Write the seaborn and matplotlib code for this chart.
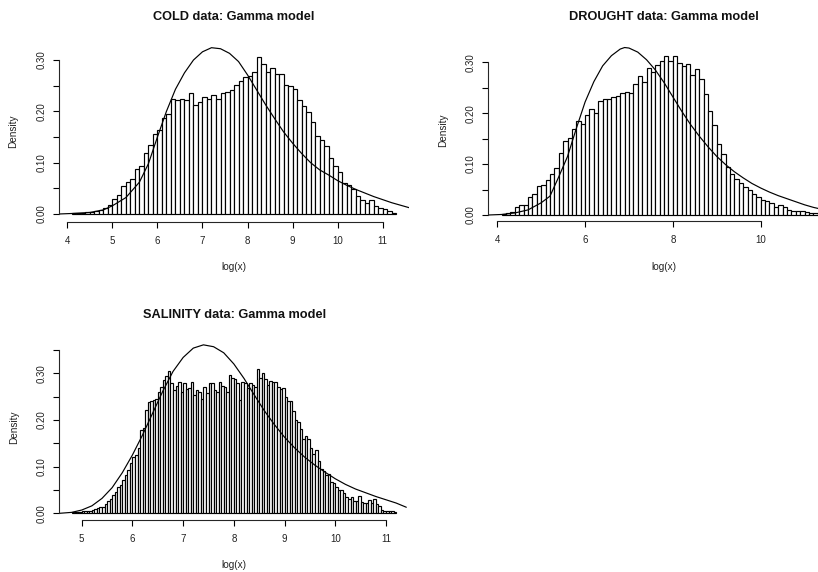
import numpy as np
import pandas as pd
import matplotlib
matplotlib.use("Agg")
import matplotlib.pyplot as plt
import seaborn as sns

sns.set_style("ticks")
plt.rcParams['font.family'] = ['Liberation Sans', 'DejaVu Sans']

# ---------------- data ----------------
cold_start, cold_width = 4.1, 0.1
cold_density = [0.001, 0.001, 0.002, 0.003, 0.004, 0.006, 0.008, 0.012, 0.017,
                0.030, 0.037, 0.055, 0.063, 0.068, 0.087, 0.093, 0.118, 0.134, 0.156,
                0.164, 0.187, 0.195, 0.224, 0.222, 0.225, 0.223, 0.235, 0.213, 0.218,
                0.228, 0.225, 0.232, 0.225, 0.235, 0.237, 0.242, 0.251, 0.259, 0.266,
                0.269, 0.276, 0.305, 0.292, 0.276, 0.284, 0.273, 0.273, 0.251, 0.249,
                0.243, 0.223, 0.210, 0.198, 0.180, 0.152, 0.145, 0.132, 0.109, 0.094,
                0.081, 0.061, 0.057, 0.048, 0.035, 0.028, 0.022, 0.027, 0.016, 0.012,
                0.009, 0.005, 0.002]
cold_curve_x = [3.81, 4.1, 4.5, 4.8, 5.0, 5.3, 5.6, 5.8, 6.0, 6.2, 6.4, 6.6, 6.8, 7.0,
                7.2, 7.4, 7.6, 7.8, 8.0, 8.2, 8.4, 8.6, 8.8, 9.0, 9.2, 9.4, 9.6, 9.8,
                10.0, 10.2, 10.4, 10.6, 10.8, 11.0, 11.2, 11.4, 11.6]
cold_curve_y = [0.000, 0.001, 0.003, 0.008, 0.016, 0.032, 0.062, 0.098, 0.150, 0.200,
                0.243, 0.275, 0.300, 0.316, 0.324, 0.322, 0.313, 0.297, 0.271, 0.242,
                0.213, 0.186, 0.160, 0.138, 0.118, 0.100, 0.086, 0.076, 0.065, 0.056,
                0.048, 0.041, 0.034, 0.028, 0.022, 0.017, 0.012]

drought_start, drought_width = 4.1, 0.1
drought_density = [0.002, 0.003, 0.006, 0.015, 0.020, 0.020, 0.035, 0.042, 0.057,
                   0.059, 0.069, 0.081, 0.092, 0.121, 0.146, 0.152, 0.168, 0.184, 0.179,
                   0.196, 0.208, 0.200, 0.224, 0.228, 0.228, 0.231, 0.233, 0.240, 0.242,
                   0.240, 0.258, 0.273, 0.262, 0.288, 0.280, 0.295, 0.303, 0.312, 0.303,
                   0.312, 0.299, 0.293, 0.297, 0.275, 0.286, 0.267, 0.238, 0.205, 0.176,
                   0.140, 0.119, 0.094, 0.081, 0.070, 0.063, 0.055, 0.050, 0.042, 0.035,
                   0.029, 0.027, 0.023, 0.016, 0.019, 0.015, 0.010, 0.008, 0.007, 0.007,
                   0.006, 0.004, 0.003, 0.001, 0.001]
drought_curve_x = [3.8, 4.1, 4.4, 4.7, 5.0, 5.2, 5.4, 5.6, 5.8, 6.0, 6.2, 6.4, 6.6, 6.8,
                   6.9, 7.0, 7.2, 7.4, 7.6, 7.8, 8.0, 8.2, 8.4, 8.6, 8.8, 9.0, 9.2, 9.4,
                   9.6, 9.8, 10.0, 10.2, 10.4, 10.6, 10.8, 11.0, 11.2, 11.4, 11.6, 11.8]
drought_curve_y = [0.000, 0.001, 0.004, 0.010, 0.024, 0.037, 0.075, 0.115, 0.170, 0.222,
                   0.262, 0.293, 0.313, 0.326, 0.329, 0.328, 0.320, 0.305, 0.285, 0.260,
                   0.232, 0.204, 0.178, 0.155, 0.134, 0.115, 0.099, 0.085, 0.073, 0.062,
                   0.053, 0.045, 0.038, 0.032, 0.026, 0.020, 0.015, 0.011, 0.008, 0.006]

salinity_start, salinity_width = 4.8, 0.05
salinity_density = [0.002, 0.002, 0.003, 0.003, 0.004, 0.004, 0.005, 0.006, 0.007, 0.009,
                    0.011, 0.013, 0.014, 0.021, 0.027, 0.030, 0.039, 0.046, 0.057, 0.061,
                    0.071, 0.082, 0.093, 0.107, 0.121, 0.125, 0.140, 0.178, 0.182, 0.221,
                    0.239, 0.240, 0.243, 0.246, 0.261, 0.270, 0.286, 0.295, 0.304, 0.279,
                    0.265, 0.273, 0.282, 0.261, 0.280, 0.266, 0.268, 0.282, 0.254, 0.264,
                    0.261, 0.246, 0.271, 0.257, 0.280, 0.280, 0.264, 0.261, 0.282, 0.273,
                    0.271, 0.261, 0.296, 0.289, 0.287, 0.279, 0.243, 0.282, 0.279, 0.268,
                    0.280, 0.275, 0.271, 0.309, 0.289, 0.300, 0.287, 0.275, 0.284, 0.282,
                    0.282, 0.271, 0.266, 0.268, 0.250, 0.240, 0.240, 0.220, 0.200, 0.195,
                    0.180, 0.160, 0.165, 0.160, 0.140, 0.128, 0.135, 0.112, 0.095, 0.090,
                    0.082, 0.085, 0.068, 0.064, 0.057, 0.051, 0.050, 0.044, 0.036, 0.030,
                    0.036, 0.027, 0.027, 0.037, 0.025, 0.023, 0.023, 0.029, 0.023, 0.030,
                    0.020, 0.016, 0.007, 0.004, 0.004, 0.005, 0.004, 0.002]
salinity_curve_x = [4.56, 4.8, 5.0, 5.2, 5.4, 5.6, 5.8, 6.0, 6.2, 6.4, 6.6, 6.8, 7.0, 7.2,
                    7.4, 7.6, 7.8, 8.0, 8.2, 8.4, 8.6, 8.8, 9.0, 9.2, 9.4, 9.6, 9.8, 10.0,
                    10.2, 10.4, 10.6, 10.8, 11.0, 11.2, 11.4]
salinity_curve_y = [0.000, 0.002, 0.007, 0.016, 0.032, 0.055, 0.087, 0.125, 0.168, 0.215,
                    0.262, 0.304, 0.334, 0.354, 0.361, 0.357, 0.344, 0.320, 0.289, 0.254,
                    0.220, 0.190, 0.163, 0.140, 0.120, 0.103, 0.088, 0.074, 0.062, 0.052,
                    0.044, 0.036, 0.029, 0.022, 0.013]

titles = ["COLD data: Gamma model", "DROUGHT data: Gamma model", "SALINITY data: Gamma model"]
x_label = "log(x)"
y_label = "Density"

# ---------------- layout ----------------
W, H = 818, 572
fig = plt.figure(figsize=(W / 100, H / 100), dpi=100)


def px_axes(l, t, r, b):
    return fig.add_axes([l / W, 1 - b / H, (r - l) / W, (b - t) / H])


panels = [
    dict(box=(58.8, 40, 409.2, 221.5), xlim=(3.811, 11.588), ylim=(-0.0146, 0.339),
         start=cold_start, width=cold_width, dens=cold_density,
         cx=cold_curve_x, cy=cold_curve_y, xticks=list(range(4, 12)), yt_max=0.30,
         title=titles[0], title_y=16.5, xlab_y=267),
    dict(box=(488.3, 40, 839.7, 221.2), xlim=(3.795, 11.80), ylim=(-0.0122, 0.3438),
         start=drought_start, width=drought_width, dens=drought_density,
         cx=drought_curve_x, cy=drought_curve_y, xticks=[4, 6, 8, 10], yt_max=0.30,
         title=titles[1], title_y=16.5, xlab_y=267),
    dict(box=(59.3, 335, 409.2, 519.8), xlim=(4.558, 11.457), ylim=(-0.0139, 0.3821),
         start=salinity_start, width=salinity_width, dens=salinity_density,
         cx=salinity_curve_x, cy=salinity_curve_y, xticks=list(range(5, 12)), yt_max=0.35,
         title=titles[2], title_y=314.5, xlab_y=565),
]

for p in panels:
    l, t, r, b = p["box"]
    ax = px_axes(l, t, r, b)
    n = len(p["dens"])
    lo = p["start"]
    hi = p["start"] + p["width"] * n
    centers = lo + p["width"] * (np.arange(n) + 0.5)
    df = pd.DataFrame({"x": centers, "w": p["dens"]})
    sns.histplot(data=df, x="x", weights="w", bins=n, binrange=(lo, hi), stat="count",
                 ax=ax, color="white", edgecolor="black", linewidth=0.85, alpha=1)
    cdf = pd.DataFrame({"x": p["cx"], "y": p["cy"]})
    sns.lineplot(data=cdf, x="x", y="y", ax=ax, color="black", linewidth=0.85, sort=True)

    ax.set_xlim(*p["xlim"])
    ax.set_ylim(*p["ylim"])
    for s in ["top", "right"]:
        ax.spines[s].set_visible(False)
    for s in ["left", "bottom"]:
        ax.spines[s].set_linewidth(0.8)
    ax.spines["bottom"].set_bounds(p["xticks"][0], p["xticks"][-1])
    ax.spines["left"].set_bounds(0, p["yt_max"])
    ax.set_xticks(p["xticks"])
    ax.set_xticklabels([str(v) for v in p["xticks"]])
    yt = np.round(np.arange(0, p["yt_max"] + 1e-9, 0.05), 2)
    ax.set_yticks(yt)
    ax.set_yticklabels([f"{v:.2f}" if round(v * 100) % 10 == 0 else "" for v in yt],
                       rotation=90, va="center")
    ax.tick_params(axis="both", length=4.5, width=0.8, labelsize=7.0, color="black",
                   labelcolor="#222222")
    ax.tick_params(axis="x", pad=5.6)
    ax.tick_params(axis="y", pad=4.4)

    h = b - t
    w = r - l
    ax.set_xlabel(x_label, fontsize=7.2, color="#222222")
    ax.xaxis.label.set_va("center")
    ax.xaxis.set_label_coords(0.5, (b - p["xlab_y"]) / h)
    ax.set_ylabel(y_label, fontsize=7.2, color="#222222")
    ax.yaxis.label.set_va("center")
    ax.yaxis.set_label_coords(-45.5 / w, 0.5)
    ax.text(0.5, (b - p["title_y"]) / h, p["title"],
            transform=ax.transAxes, ha="center", va="center", fontsize=9.2,
            fontweight="bold", color="#111111")

fig.savefig("out.png", dpi=100)
